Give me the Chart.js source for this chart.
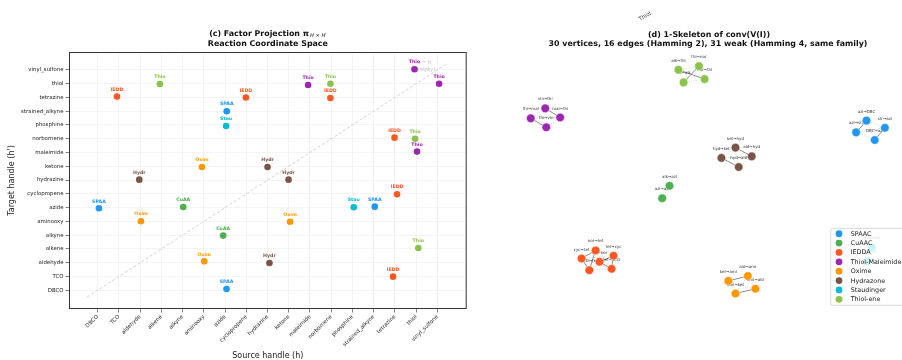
<!DOCTYPE html>
<html>
<head>
<meta charset="utf-8">
<script src="https://cdn.jsdelivr.net/npm/chart.js@4.4.1/dist/chart.umd.min.js"></script>
<style>
  html, body { margin: 0; padding: 0; background: #fff; width: 902px; height: 360px; overflow: hidden; }
  #proj { position: absolute; left: 0; top: 0; }
  #skel { position: absolute; left: 460px; top: 0; }
</style>
</head>
<body>
<canvas id="proj" width="470" height="360"></canvas>
<canvas id="skel" width="442" height="360"></canvas>
<script>
// Handle vocabulary (shared by both axes of the projection)
const handles = ['DBCO','TCO','aldehyde','alkene','alkyne','aminooxy','azide','cyclopropene','hydrazine',
  'ketone','maleimide','norbornene','phosphine','strained_alkyne','tetrazine','thiol','vinyl_sulfone'];

// Reaction families
const families = ['SPAAC','CuAAC','IEDDA','Thiol-Maleimide','Oxime','Hydrazone','Staudinger','Thiol-ene'];
const familyColors = ['#2196F3','#4CAF50','#FF5722','#9C27B0','#FF9800','#795548','#00BCD4','#8BC34A'];
const familyTags = ['SPAA','CuAA','IEDD','Thio','Oxim','Hydr','Stau','Thio'];

// Vertices: family index, source handle, target handle
const vertexFamily = [0,0,0,0, 1,1, 2,2,2,2,2,2, 3,3,3,3, 4,4,4,4, 5,5,5,5, 6,6, 7,7,7,7];
const vertexSource = ['DBCO','azide','strained_alkyne','azide', 'alkyne','azide',
  'TCO','tetrazine','cyclopropene','tetrazine','norbornene','tetrazine',
  'maleimide','thiol','vinyl_sulfone','thiol', 'aldehyde','aminooxy','ketone','aminooxy',
  'aldehyde','hydrazine','ketone','hydrazine', 'phosphine','azide', 'alkene','thiol','norbornene','thiol'];
const vertexTarget = ['azide','DBCO','azide','strained_alkyne', 'azide','alkyne',
  'tetrazine','TCO','tetrazine','cyclopropene','tetrazine','norbornene',
  'thiol','maleimide','thiol','vinyl_sulfone', 'aminooxy','aldehyde','aminooxy','ketone',
  'hydrazine','aldehyde','hydrazine','ketone', 'azide','phosphine', 'thiol','alkene','thiol','norbornene'];

// Projected (jittered) coordinates in handle-index space
const projX = [0.06,6.07,13.05,6.08, 4.03,5.91, 0.91,13.91,6.98,14.10,10.96,13.98,
  9.91,15.04,16.08,14.92, 2.04,5.02,9.06,4.91, 1.96,8.09,8.99,8.00, 12.06,6.05, 2.93,15.10,10.96,14.95];
const projY = [5.95,0.09,6.07,13.00, 6.05,3.97, 14.06,0.99,14.00,6.97,13.96,11.08,
  14.90,10.07,15.00,16.05, 5.01,2.10,4.98,8.95, 8.03,1.98,8.03,8.95, 6.03,11.93, 14.98,3.07,15.00,11.00];

// Spring-layout coordinates of the skeleton graph
const layoutX = [0.896,0.858,0.943,0.810, -0.053,-0.087, -0.424,-0.321,-0.460,-0.312,-0.395,-0.377,
  -0.559,-0.695,-0.628,-0.623, 0.309,0.344,0.219,0.252, 0.327,0.267,0.252,0.187, 0.882,0.863,
  -0.012,0.012,0.109,0.083];
const layoutY = [0.228,0.339,0.298,0.272, -0.033,-0.104, -0.515,-0.507,-0.448,-0.432,-0.402,-0.467,
  0.357,0.352,0.409,0.301, -0.548,-0.621,-0.576,-0.648, 0.135,0.074,0.185,0.126, -0.385,-0.463,
  0.629,0.557,0.576,0.650];

const FONT = '"DejaVu Sans", "Liberation Sans", sans-serif';
const vertexIdx = vertexFamily.map((_, i) => i);
const vertexLabel = vertexIdx.map(i => vertexSource[i].slice(0, 3) + '→' + vertexTarget[i].slice(0, 3));

// ---------- (c) factor projection ----------
const projDatasets = families.map((name, fi) => ({
  type: 'scatter',
  label: name,
  data: vertexIdx.filter(i => vertexFamily[i] === fi).map(i => ({ x: projX[i], y: projY[i] })),
  backgroundColor: familyColors[fi],
  borderWidth: 0,
  pointRadius: 3.3,
  pointHoverRadius: 3.3
}));
projDatasets.push({
  type: 'line',
  label: 'diagonal',
  data: [{ x: -0.5, y: -0.5 }, { x: 16.5, y: 16.5 }],
  borderColor: '#c6c6c6',
  borderWidth: 0.8,
  borderDash: [3, 2],
  pointRadius: 0,
  order: 10
});

const projDecor = {
  id: 'projDecor',
  beforeDatasetsDraw(chart) {
    const { ctx, scales: { x, y } } = chart;
    ctx.save();
    ctx.fillStyle = '#c4c4c4';
    ctx.font = '5.3px ' + FONT;
    ctx.textAlign = 'center';
    ctx.textBaseline = 'middle';
    ctx.fillText("h = h'", x.getPixelForValue(15.4), y.getPixelForValue(16.55));
    ctx.fillText('(empty)', x.getPixelForValue(15.4), y.getPixelForValue(16.05));
    ctx.restore();
  },
  afterDatasetsDraw(chart) {
    const { ctx, scales: { x, y } } = chart;
    ctx.save();
    ctx.font = 'bold 4.7px ' + FONT;
    ctx.textAlign = 'center';
    ctx.textBaseline = 'middle';
    vertexIdx.forEach(i => {
      ctx.fillStyle = familyColors[vertexFamily[i]];
      ctx.fillText(familyTags[vertexFamily[i]], x.getPixelForValue(projX[i]), y.getPixelForValue(projY[i]) - 7);
    });
    ctx.restore();
  },
  afterDraw(chart) {
    const { ctx, chartArea: a } = chart;
    ctx.save();
    ctx.strokeStyle = '#333';
    ctx.lineWidth = 1;
    ctx.strokeRect(a.left + 0.5, a.top + 0.5, a.right - a.left - 1, a.bottom - a.top - 1);
    // title
    const cx = (a.left + a.right) / 2;
    ctx.fillStyle = '#111';
    ctx.textBaseline = 'middle';
    const main = '(c) Factor Projection π';
    const sub = 'H × H′';
    ctx.font = 'bold 7.9px ' + FONT;
    const w1 = ctx.measureText(main).width;
    ctx.font = 'italic 5.2px ' + FONT;
    const w2 = ctx.measureText(sub).width + 1;
    const x0 = cx - (w1 + w2) / 2;
    ctx.textAlign = 'left';
    ctx.font = 'bold 7.9px ' + FONT;
    ctx.fillText(main, x0, 34);
    ctx.font = 'italic 5.2px ' + FONT;
    ctx.fillText(sub, x0 + w1 + 1, 35.8);
    ctx.textAlign = 'center';
    ctx.font = 'bold 7.9px ' + FONT;
    ctx.fillText('Reaction Coordinate Space', cx, 44);
    ctx.restore();
  }
};

const handleTicks = s => { s.ticks = handles.map((_, i) => ({ value: i })); };

new Chart(document.getElementById('proj'), {
  type: 'scatter',
  data: { datasets: projDatasets },
  options: {
    responsive: false,
    animation: false,
    events: [],
    layout: { padding: { left: 0, top: 52, right: 3, bottom: 0 } },
    plugins: { legend: { display: false }, title: { display: false }, tooltip: { enabled: false } },
    scales: {
      x: {
        type: 'linear', min: -1.35, max: 17.38,
        afterBuildTicks: handleTicks,
        afterFit: s => { s.height = 51; },
        ticks: {
          callback: v => handles[v], autoSkip: false, maxRotation: 45, minRotation: 45,
          font: { family: FONT, size: 5.4 }, color: '#222', padding: 1
        },
        grid: { color: '#ececec', lineWidth: 0.6, tickColor: '#333', tickLength: 3.5 },
        border: { display: false },
        title: { display: true, text: 'Source handle (h)', font: { family: FONT, size: 8, lineHeight: 1.1 },
          color: '#222', padding: { top: 0, bottom: 0 } }
      },
      y: {
        type: 'linear', min: -1.36, max: 17.3,
        afterBuildTicks: handleTicks,
        afterFit: s => { s.width = 69; },
        ticks: { callback: v => handles[v], autoSkip: false, font: { family: FONT, size: 5.4 }, color: '#222', padding: 2 },
        grid: { color: '#ececec', lineWidth: 0.6, tickColor: '#333', tickLength: 3.5 },
        border: { display: false },
        title: { display: true, text: "Target handle (h')", font: { family: FONT, size: 8, lineHeight: 1.1 },
          color: '#222', padding: { top: 7.5, bottom: 0 } }
      }
    }
  },
  plugins: [projDecor]
});

// ---------- (d) 1-skeleton ----------
const strongEdges = [];
const weakEdges = [];
vertexIdx.forEach(i => vertexIdx.forEach(j => {
  if (j <= i || vertexFamily[i] !== vertexFamily[j]) return;
  const shared = vertexSource[i] === vertexSource[j] || vertexTarget[i] === vertexTarget[j];
  (shared ? strongEdges : weakEdges).push([i, j]);
}));

const nodeDatasets = families.map((name, fi) => ({
  type: 'scatter',
  label: name,
  data: vertexIdx.filter(i => vertexFamily[i] === fi).map(i => ({ x: layoutX[i], y: layoutY[i] })),
  backgroundColor: familyColors[fi],
  borderColor: '#ffffff',
  borderWidth: 0.5,
  pointRadius: 4.3,
  pointHoverRadius: 4.3
}));
const edgeDataset = (e, strong) => ({
  type: 'scatter',
  showLine: true,
  data: e.map(k => ({ x: layoutX[k], y: layoutY[k] })),
  borderColor: strong ? '#8c8c8c' : '#cfcfcf',
  borderWidth: strong ? 1 : 0.8,
  borderDash: strong ? [] : [1, 1.5],
  pointRadius: 0,
  pointHoverRadius: 0
});
const skelDatasets = nodeDatasets
  .concat(strongEdges.map(e => edgeDataset(e, true)))
  .concat(weakEdges.map(e => edgeDataset(e, false)));

const skelDecor = {
  id: 'skelDecor',
  beforeDatasetDraw(chart, args) {
    // vertex labels sit between the edges and the nodes
    if (args.index !== families.length - 1) return;
    const { ctx, scales: { x, y } } = chart;
    ctx.save();
    ctx.font = '4px ' + FONT;
    ctx.fillStyle = '#333';
    ctx.textAlign = 'center';
    ctx.textBaseline = 'middle';
    vertexIdx.forEach(i => {
      ctx.fillText(vertexLabel[i], x.getPixelForValue(layoutX[i]), y.getPixelForValue(layoutY[i]) - 9);
    });
    ctx.restore();
  },
  afterDraw(chart) {
    const { ctx } = chart;
    ctx.save();
    // title
    ctx.fillStyle = '#111';
    ctx.textAlign = 'center';
    ctx.textBaseline = 'middle';
    ctx.font = 'bold 7.9px ' + FONT;
    ctx.fillText('(d) 1-Skeleton of conv(V(I))', 249, 34.5);
    ctx.fillText('30 vertices, ' + strongEdges.length + ' edges (Hamming 2), ' + weakEdges.length +
      ' weak (Hamming 4, same family)', 248, 44);
    // stray rotated label at the top
    ctx.save();
    ctx.translate(185, 16.5);
    ctx.rotate(-Math.PI / 6);
    ctx.font = '5.5px ' + FONT;
    ctx.fillStyle = '#444';
    ctx.fillText('Thiol', 0, 0);
    ctx.restore();
    // legend
    const lx = 370.7, ly = 228.3;
    ctx.beginPath();
    ctx.roundRect(lx, ly, 90, 77, 2);
    ctx.fillStyle = 'rgba(255,255,255,0.8)';
    ctx.fill();
    ctx.strokeStyle = '#d0d0d0';
    ctx.lineWidth = 0.8;
    ctx.stroke();
    ctx.font = '6.4px ' + FONT;
    ctx.textAlign = 'left';
    families.forEach((name, fi) => {
      const yy = 233.7 + fi * 9.37;
      ctx.beginPath();
      ctx.arc(379, yy, 3.4, 0, Math.PI * 2);
      ctx.fillStyle = familyColors[fi];
      ctx.fill();
      ctx.fillStyle = '#222';
      ctx.fillText(name, 390.7, yy + 0.3);
    });
    ctx.restore();
  }
};

new Chart(document.getElementById('skel'), {
  type: 'scatter',
  data: { datasets: skelDatasets },
  options: {
    responsive: false,
    animation: false,
    events: [],
    layout: { padding: 0 },
    plugins: { legend: { display: false }, title: { display: false }, tooltip: { enabled: false } },
    scales: {
      x: { type: 'linear', min: -1, max: 1, display: false },
      y: { type: 'linear', min: -1, max: 1, display: false }
    }
  },
  plugins: [skelDecor]
});
</script>
</body>
</html>
